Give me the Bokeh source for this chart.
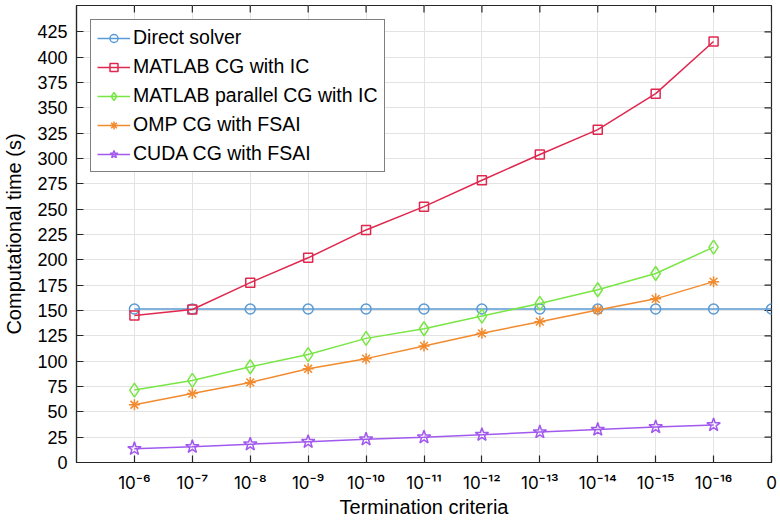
import math
from bokeh.plotting import figure
from bokeh.models import FixedTicker, Range1d, Legend, LegendItem
from bokeh.embed import file_html
from bokeh.resources import INLINE

# ---- data ----
criteria = ["10⁻⁶", "10⁻⁷", "10⁻⁸", "10⁻⁹", "10⁻¹⁰", "10⁻¹¹", "10⁻¹²",
            "10⁻¹³", "10⁻¹⁴", "10⁻¹⁵", "10⁻¹⁶", "0"]
direct_solver = [151.5, 151.5, 151.5, 151.5, 151.5, 151.5, 151.5,
                 151.5, 151.5, 151.5, 151.5, 151.5]
matlab_cg_ic = [145, 151, 177.5, 202, 229.5, 252.5, 278.5, 304, 328.5, 364, 415.5]
matlab_par_cg_ic = [71.5, 81, 94.5, 106.5, 122.5, 132, 144.5, 157, 170.5, 186.5, 212.5]
omp_cg_fsai = [57, 68, 79, 92.5, 102.5, 115, 127.5, 139, 150.5, 161.5, 178.5]
cuda_cg_fsai = [13.5, 15.5, 18, 20.5, 23, 25, 27.5, 30, 32.5, 35, 37]
y_ticks = [0, 25, 50, 75, 100, 125, 150, 175, 200, 225, 250, 275, 300,
           325, 350, 375, 400, 425]

xs_all = list(range(1, len(criteria) + 1))
X_MAX = len(criteria)
Y_MAX = 451

FONT = "Liberation Sans"
AX = "#262626"

p = figure(width=780, height=520, output_backend="svg", toolbar_location=None,
           x_range=Range1d(0, X_MAX), y_range=Range1d(0, Y_MAX),
           min_border_left=73, min_border_right=9, min_border_top=5,
           min_border_bottom=54)
p.background_fill_color = "white"
p.border_fill_color = "white"
p.outline_line_color = AX
p.outline_line_width = 1.2

# axes
p.xaxis.ticker = FixedTicker(ticks=xs_all)
p.xaxis.major_label_overrides = {x: lab for x, lab in zip(xs_all, criteria)}
p.yaxis.ticker = FixedTicker(ticks=y_ticks)
p.xaxis.axis_label = "Termination criteria"
p.yaxis.axis_label = "Computational time (s)"
for ax in (p.xaxis, p.yaxis):
    ax.axis_line_color = AX
    ax.axis_line_width = 1.2
    ax.major_tick_line_color = AX
    ax.major_tick_line_width = 1.2
    ax.major_tick_in = 7
    ax.major_tick_out = 0
    ax.minor_tick_line_color = None
    ax.major_label_text_font = FONT
    ax.major_label_text_font_size = "18px"
    ax.major_label_text_color = "black"
    ax.axis_label_text_font = FONT
    ax.axis_label_text_font_size = "20px"
    ax.axis_label_text_font_style = "normal"
    ax.axis_label_text_color = "black"
# a face with a complete, uniform set of superscript digits for 10^-n labels
p.xaxis.major_label_text_font = "Inter"
p.xaxis.major_label_text_font_size = "17px"
p.xaxis.major_label_standoff = 10
p.xaxis.axis_label_standoff = 0
p.yaxis.major_label_standoff = 9
p.yaxis.axis_label_standoff = 9

# inward ticks on the top and right edges (box on)
p.ray(x=xs_all, y=[Y_MAX] * len(xs_all), length=7, length_units="screen",
      angle=-math.pi / 2, line_color=AX, line_width=1.2)
p.ray(x=[X_MAX] * len(y_ticks), y=y_ticks, length=7, length_units="screen",
      angle=math.pi, line_color=AX, line_width=1.2)

# grid
p.xgrid.ticker = FixedTicker(ticks=xs_all)
p.ygrid.ticker = FixedTicker(ticks=y_ticks)
p.xgrid.grid_line_color = "#e3e3e3"
p.ygrid.grid_line_color = "#e3e3e3"

series = [
    ("Direct solver", direct_solver, "#5a9bd5", "circle", 10),
    ("MATLAB CG with IC", matlab_cg_ic, "#e0284f", "square", 9),
    ("MATLAB parallel CG with IC", matlab_par_cg_ic, "#78e645", "diamond", 14),
    ("OMP CG with FSAI", omp_cg_fsai, "#f28a2e", "asterisk", 11),
    ("CUDA CG with FSAI", cuda_cg_fsai, "#a259ee", "star", 14),
]

items = []
for name, vals, col, mk, sz in series:
    xs = xs_all[:len(vals)]
    rl = p.line(xs, vals, line_color=col, line_width=1.5)
    rm = p.scatter(xs, vals, marker=mk, size=sz, line_color=col,
                   fill_color=None, line_width=1.5)
    items.append(LegendItem(label=name, renderers=[rl, rm]))

legend = Legend(items=items, location="top_left", margin=14,
                border_line_color="black", border_line_width=1.3,
                background_fill_color="white", background_fill_alpha=1,
                label_text_font=FONT, label_text_font_size="19.5px",
                label_text_color="black",
                glyph_width=33, glyph_height=20, label_height=20,
                label_standoff=3, spacing=6, padding=6)
p.add_layout(legend)

open("out.html", "w").write(file_html(p, INLINE))
